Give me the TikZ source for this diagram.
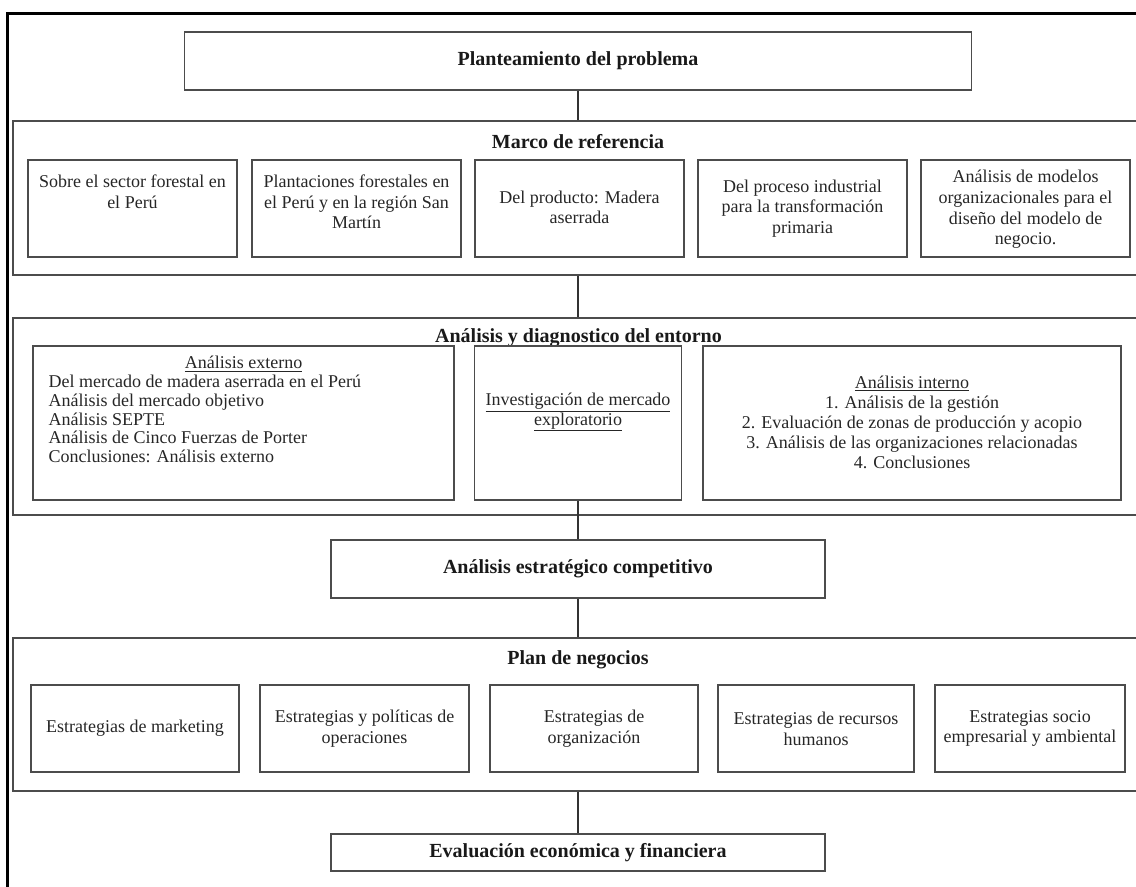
\documentclass[tikz,border=0pt]{standalone}
\usepackage{fontspec}
\setmainfont{Liberation Serif}
\newlength{\pxu}
\setlength{\pxu}{0.75pt}
\tikzset{
  box/.style={draw=black!70, line width=1.2pt, rectangle, inner sep=0pt},
  txt/.style={align=center, text=black!85, font=\fontsize{13.5}{15.5}\selectfont},
  ttl/.style={text=black!90, font=\fontsize{15}{17}\selectfont\bfseries},
  link/.style={draw=black!80, line width=1.1pt}
}
\begin{document}
\begin{tikzpicture}[x=0.75pt, y=-0.75pt]
\useasboundingbox (0,0) rectangle (1136,886);
\clip (0,0) rectangle (1136,886);
\draw[line width=2.25pt] (7.5,900)--(7.5,13)--(1150,13);

% planteamiento
\node[box, ttl, minimum width=787\pxu, minimum height=58\pxu] (problema) at (578,61) {Planteamiento del problema};

% marco de referencia
\node[box, minimum width=1130\pxu, minimum height=154\pxu] (marco) at (578,198) {};
\node[ttl] (marcoT) at (578,142) {Marco de referencia};
\foreach \n/\xc/\yt/\txt in {1/132.5/192/{Sobre el sector forestal en\\el Perú},
  2/356.5/202/{Plantaciones forestales en\\el Perú y en la región San\\Martín},
  3/579.5/207.5/{Del producto: Madera\\aserrada},
  4/802.5/208.5/{Del proceso industrial\\para la transformación\\primaria},
  5/1025.5/209.5/{Análisis de modelos\\organizacionales para el\\diseño del modelo de\\negocio.}}
{
  \node[box, minimum width=209\pxu, minimum height=97\pxu] (m\n) at (\xc,208.5) {};
  \node[txt] (mt\n) at (\xc,\yt) {\txt};
}

% analisis y diagnostico
\node[box, minimum width=1130\pxu, minimum height=197\pxu] (analisis) at (578,416.5) {};
\node[ttl] (analisisT) at (578.5,338) {Análisis y diagnostico del entorno};
\node[box, minimum width=421\pxu, minimum height=154\pxu] (externo) at (243.5,423) {};
\node[txt] (externoT) at (243.5,364) {\underline{Análisis externo}};
\node[txt, align=left, anchor=west, font=\fontsize{13.5}{14}\selectfont] (externoL) at (44,419) {Del mercado de madera aserrada en el Perú\\Análisis del mercado objetivo\\Análisis SEPTE\\Análisis de Cinco Fuerzas de Porter\\Conclusiones: Análisis externo};
\node[box, minimum width=207\pxu, minimum height=154\pxu] (inv) at (578,423) {};
\node[txt, font=\fontsize{13.5}{15}\selectfont] (invT) at (578,412) {\underline{Investigación de mercado}\\\underline{exploratorio}};
\node[box, minimum width=418\pxu, minimum height=154\pxu] (interno) at (912,423) {};
\node[txt, font=\fontsize{13.5}{15}\selectfont] (internoT) at (912,422) {\underline{Análisis interno}\\1. Análisis de la gestión\\2. Evaluación de zonas de producción y acopio\\3. Análisis de las organizaciones relacionadas\\4. Conclusiones};

% estrategico
\node[box, ttl, minimum width=494\pxu, minimum height=58\pxu] (estrategico) at (578,569) {Análisis estratégico competitivo};

% plan de negocios
\node[box, minimum width=1130\pxu, minimum height=153\pxu] (plan) at (578,714.5) {};
\node[ttl] (planT) at (578,660) {Plan de negocios};
\foreach \n/\xc/\w/\txt in {1/135/208/{Estrategias de marketing},
  2/364.5/209/{Estrategias y políticas de\\operaciones},
  3/594/208/{Estrategias de\\organización},
  4/816/196/{Estrategias de recursos\\humanos},
  5/1030/190/{Estrategias socio\\empresarial y ambiental}}
{
  \node[box, txt, minimum width=\w\pxu, minimum height=87\pxu] (p\n) at (\xc,728.5) {\txt};
}

% evaluacion
\node[box, ttl, minimum width=494\pxu, minimum height=37\pxu] (evaluacion) at (578,852.5) {Evaluación económica y financiera};

\draw[link] (problema) -- (marco);
\draw[link] (marco) -- (analisis);
\draw[link] (inv) -- (estrategico);
\draw[link] (estrategico) -- (plan);
\draw[link] (plan) -- (evaluacion);
\end{tikzpicture}
\end{document}
